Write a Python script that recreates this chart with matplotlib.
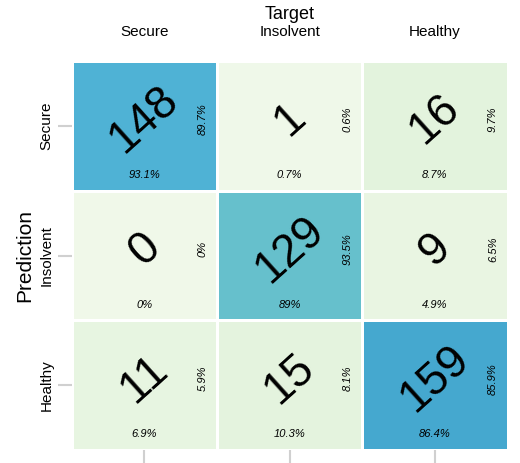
import numpy as np
import matplotlib
matplotlib.use("Agg")
import matplotlib.pyplot as plt
from matplotlib.colors import LinearSegmentedColormap

plt.rcParams['font.family'] = ['Liberation Sans', 'DejaVu Sans']

classes = ["Secure", "Insolvent", "Healthy"]
counts = np.array([[148, 1, 16],
                   [0, 129, 9],
                   [11, 15, 159]])
row_pct = ["89.7%", "0.6%", "9.7%", "0%", "93.5%", "6.5%", "5.9%", "8.1%", "85.9%"]
col_pct = ["93.1%", "0.7%", "8.7%", "0%", "89%", "4.9%", "6.9%", "10.3%", "86.4%"]

fig = plt.figure(figsize=(5.2, 4.63), dpi=100)
ax = fig.add_axes([0.138, 0.028, 0.838, 0.84])
cmap = LinearSegmentedColormap.from_list(
    "c", [(0.0, "#f0f8e9"), (0.1, "#e3f3dd"), (0.5, "#b0dec8"),
          (0.81, "#66c0cc"), (0.93, "#50b3d5"), (1.0, "#45a8cf")])
ax.pcolormesh(np.arange(4), np.arange(4), counts, cmap=cmap, vmin=0, vmax=159,
              edgecolor="white", linewidth=2)
ax.set_xlim(0, 3); ax.set_ylim(3, 0)
for s in ax.spines.values():
    s.set_visible(False)
for i in range(3):
    for j in range(3):
        k = i * 3 + j
        ax.text(j + 0.5, i + 0.45, str(counts[i, j]), ha="center", va="center",
                fontsize=33, rotation=42, color="black")
        ax.text(j + 0.9, i + 0.45, row_pct[k], ha="center", va="center",
                fontsize=8, rotation=90, style="italic")
        ax.text(j + 0.5, i + 0.88, col_pct[k], ha="center", va="center",
                fontsize=8, style="italic")
ax.set_xticks(np.arange(3) + 0.5)
ax.set_yticks(np.arange(3) + 0.5)
ax.set_yticklabels(classes, rotation=90, va="center", fontsize=11)
ax.tick_params(axis="x", top=False, bottom=True, labeltop=True, labelbottom=False,
               length=10, color="#d0d0d0", width=1.5, labelsize=11, pad=6)
ax.tick_params(axis="y", length=10, color="#d0d0d0", width=1.5, pad=3)
ax.set_xticklabels(classes)
ax.xaxis.set_label_position("top")
ax.set_xlabel("Target", fontsize=13, labelpad=4)
ax.set_ylabel("Prediction", fontsize=15, labelpad=4)
fig.savefig("out.png", dpi=100)
